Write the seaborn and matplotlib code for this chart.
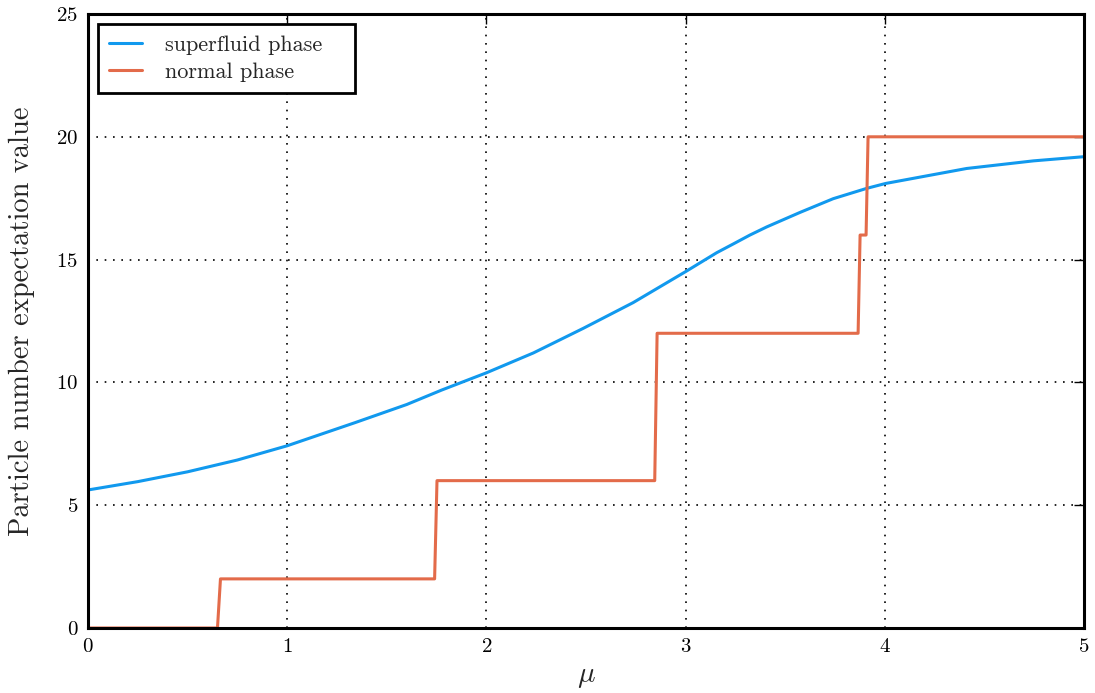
import matplotlib
matplotlib.use("Agg")
import matplotlib.pyplot as plt
import seaborn as sns
import numpy as np
import pandas as pd

# superfluid phase
mu_sf = [0.0, 0.25, 0.5, 0.75, 1.0, 1.34, 1.6, 1.776, 2.0, 2.236, 2.486, 2.737,
         3.0, 3.156, 3.24, 3.323, 3.407, 3.574, 3.741, 3.909, 4.004, 4.411, 4.746, 5.0]
n_sf = [5.62, 5.96, 6.36, 6.84, 7.42, 8.36, 9.1, 9.69, 10.39, 11.2, 12.2, 13.25,
        14.51, 15.28, 15.64, 16.0, 16.33, 16.92, 17.48, 17.90, 18.10, 18.71, 19.02, 19.19]

# normal phase (step function)
mu_np = [0.0, 0.65, 0.665, 1.74, 1.752, 2.845, 2.857, 3.866, 3.876, 3.906, 3.916, 5.0]
n_np = [0, 0, 2, 2, 6, 6, 12, 12, 16, 16, 20, 20]

labels = ["superfluid phase", "normal phase"]
colors = ["#1199ee", "#e36b4a"]

sns.set_style("white")
plt.rcParams["font.family"] = ["serif"]
plt.rcParams["font.serif"] = ["cmr10", "DejaVu Serif"]
plt.rcParams["mathtext.fontset"] = "cm"
plt.rcParams["axes.formatter.use_mathtext"] = True

fig = plt.figure(figsize=(10.95, 6.93), dpi=100)
ax = fig.add_axes([88/1095, 1-628/693, (1084-88)/1095, (628-14)/693])

df_sf = pd.DataFrame({"mu": mu_sf, "N": n_sf})
df_np = pd.DataFrame({"mu": mu_np, "N": n_np})
sns.lineplot(data=df_sf, x="mu", y="N", ax=ax, color=colors[0], lw=2.2, label=labels[0],
             sort=False, estimator=None, zorder=1.5)
sns.lineplot(data=df_np, x="mu", y="N", ax=ax, color=colors[1], lw=2.2, label=labels[1],
             sort=False, estimator=None, zorder=1.5)

ax.set_xlim(0, 5)
ax.set_ylim(0, 25)
ax.set_xticks([0, 1, 2, 3, 4, 5])
ax.set_yticks([0, 5, 10, 15, 20, 25])
ax.grid(True, color="black", linestyle=(0, (1, 4)), linewidth=1.2)
ax.tick_params(direction="in", top=True, right=True, length=7, width=1, labelsize=15, pad=7, colors="black")
for s in ax.spines.values():
    s.set_linewidth(2.2)
    s.set_color("black")
    s.set_visible(True)
    s.set_zorder(3)
ax.set_xlabel(r"$\mu$", fontsize=21, labelpad=6)
ax.set_ylabel("Particle number expectation value", fontsize=20.5, labelpad=15)

leg = ax.legend(loc="upper left", fancybox=False, fontsize=16, handlelength=1.5, borderpad=0.5,
                labelspacing=0.35, handletextpad=1.0, borderaxespad=0, framealpha=1,
                bbox_to_anchor=(10/996, 0, 257/996, 604/614), mode="expand")
leg.get_frame().set_edgecolor("black")
leg.get_frame().set_linewidth(2)
leg.set_zorder(5)

fig.savefig("out.png", dpi=100)
